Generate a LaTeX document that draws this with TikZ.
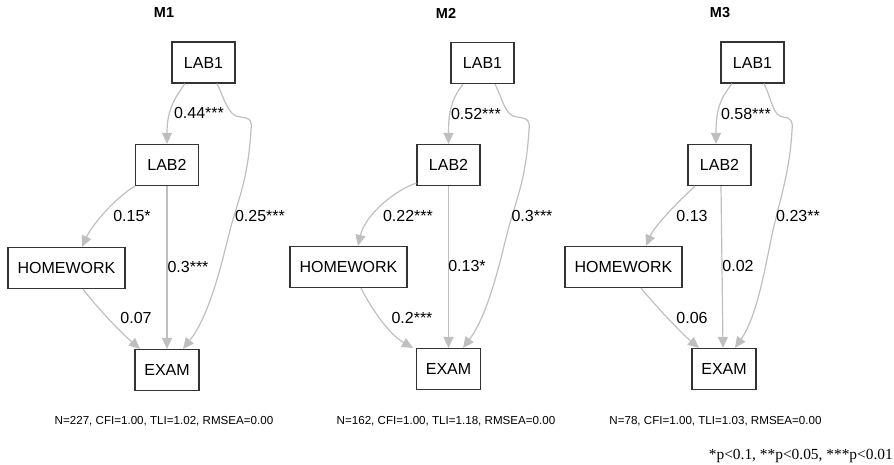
\documentclass[tikz,border=0pt]{standalone}
\usepackage{fontspec}
\setmainfont{Liberation Sans}
\newfontfamily\notefont{Liberation Serif}
\usetikzlibrary{arrows.meta}

\definecolor{boxgray}{HTML}{333333}
\definecolor{edgegray}{HTML}{BFBFBF}

\begin{document}
\begin{tikzpicture}[x=1pt,y=-1pt,
  var/.style={draw=boxgray, line width=1.2pt, minimum height=41pt, inner sep=0pt,
    font=\fontsize{16}{16}\selectfont},
  regpath/.style={draw=edgegray, line width=1.2pt, -{Triangle[length=11pt,width=10pt]}},
  coef/.style={inner sep=0pt, font=\fontsize{16}{16}\selectfont},
  ttl/.style={inner sep=0pt, font=\bfseries\fontsize{14.5}{14.5}\selectfont},
  fitstat/.style={inner sep=0pt, font=\fontsize{11.6}{11.6}\selectfont},
]
\useasboundingbox (0,0) rectangle (894,464);

% ---------------- Model 1 ----------------
\node[ttl] (m1t) at (164,13) {M1};
\node[var, minimum width=63pt]  (m1a) at (203.5,62.5) {LAB1};
\node[var, minimum width=63pt]  (m1b) at (167,165)    {LAB2};
\node[var, minimum width=117pt] (m1h) at (66.5,268)   {HOMEWORK};
\node[var, minimum width=64pt]  (m1e) at (167,370)    {EXAM};
\node[fitstat] (m1f) at (164,421) {N=227, CFI=1.00, TLI=1.02, RMSEA=0.00};

\draw[regpath] ([xshift=-18.5pt]m1a.south) .. controls (173,100) and (167,112) .. (m1b.north);
\draw[regpath] ([xshift=13.5pt]m1a.south) .. controls (225,100) and (228,116) .. (240,117)
  .. controls (252,118) and (252,122) .. (251,130)
  .. controls (248,180) and (238,200) .. (230,230)
  .. controls (222,262) and (210,315) .. ([xshift=16pt]m1e.north);
\draw[regpath] (m1b.south west) .. controls (115,198) and (92,225) .. ([xshift=15.5pt]m1h.north);
\draw[regpath] (m1b) -- (m1e);
\draw[regpath] ([xshift=16.5pt]m1h.south) .. controls (95,305) and (118,330) .. ([xshift=-27pt]m1e.north);

\node[coef] (m1l1) at (199,113) {0.44***};
\node[coef] (m1l2) at (132,216) {0.15*};
\node[coef] (m1l3) at (260,216) {0.25***};
\node[coef] (m1l4) at (188,267) {0.3***};
\node[coef] (m1l5) at (136,318) {0.07};

% ---------------- Model 2 ----------------
\node[ttl] (m2t) at (446,13) {M2};
\node[var, minimum width=63pt]  (m2a) at (482.5,63)  {LAB1};
\node[var, minimum width=63pt]  (m2b) at (448.5,165) {LAB2};
\node[var, minimum width=117pt] (m2h) at (348.5,267) {HOMEWORK};
\node[var, minimum width=64pt]  (m2e) at (448.5,369) {EXAM};
\node[fitstat] (m2f) at (446,421) {N=162, CFI=1.00, TLI=1.18, RMSEA=0.00};

\draw[regpath] ([xshift=-19.5pt]m2a.south) .. controls (451,100) and (448.5,112) .. (m2b.north);
\draw[regpath] ([xshift=12.5pt]m2a.south) .. controls (503,100) and (505,116) .. (517,117)
  .. controls (529,118) and (530,122) .. (529,130)
  .. controls (526,180) and (516,200) .. (508,230)
  .. controls (500,262) and (488,315) .. ([xshift=14.5pt]m2e.north);
\draw[regpath] ([yshift=3pt]m2b.south west) .. controls (395,190) and (365,215) .. ([xshift=9.5pt]m2h.north);
\draw[regpath] (m2b) -- (m2e);
\draw[regpath] ([xshift=12.5pt]m2h.south) .. controls (372,310) and (390,335) .. ([xshift=-35.5pt]m2e.north);

\node[coef] (m2l1) at (476,114) {0.52***};
\node[coef] (m2l2) at (408,216) {0.22***};
\node[coef] (m2l3) at (532,216) {0.3***};
\node[coef] (m2l4) at (467,266) {0.13*};
\node[coef] (m2l5) at (412,318) {0.2***};

% ---------------- Model 3 ----------------
\node[ttl] (m3t) at (720,13) {M3};
\node[var, minimum width=63pt]  (m3a) at (752.5,62.5) {LAB1};
\node[var, minimum width=63pt]  (m3b) at (719.5,165)  {LAB2};
\node[var, minimum width=117pt] (m3h) at (623.5,267)  {HOMEWORK};
\node[var, minimum width=64pt]  (m3e) at (724,369)    {EXAM};
\node[fitstat] (m3f) at (715.5,421) {N=78, CFI=1.00, TLI=1.03, RMSEA=0.00};

\draw[regpath] ([xshift=-20.5pt]m3a.south) .. controls (719,100) and (716,112) .. ([xshift=-3.5pt]m3b.north);
\draw[regpath] ([xshift=11.5pt]m3a.south) .. controls (772,100) and (773,116) .. (783,117)
  .. controls (792,118) and (793,122) .. (792,130)
  .. controls (790,170) and (780,200) .. (773,230)
  .. controls (766,262) and (758,315) .. ([xshift=11pt]m3e.north);
\draw[regpath] ([xshift=-24.5pt]m3b.south) .. controls (680,200) and (655,225) .. ([xshift=22.5pt]m3h.north);
\draw[regpath] ([xshift=1.5pt]m3b.south) -- ([xshift=-1pt]m3e.north);
\draw[regpath] ([xshift=17.5pt]m3h.south) .. controls (655,305) and (680,332) .. ([xshift=-25pt]m3e.north);

\node[coef] (m3l1) at (746,114) {0.58***};
\node[coef] (m3l2) at (692,216) {0.13};
\node[coef] (m3l3) at (798,216) {0.23**};
\node[coef] (m3l4) at (738,266) {0.02};
\node[coef] (m3l5) at (692,318) {0.06};

% significance legend
\node[anchor=base east, inner sep=0pt, font=\notefont\fontsize{15.4}{15.4}\selectfont]
  (legend) at (893,459) {*p<0.1, **p<0.05, ***p<0.01};
\end{tikzpicture}
\end{document}
